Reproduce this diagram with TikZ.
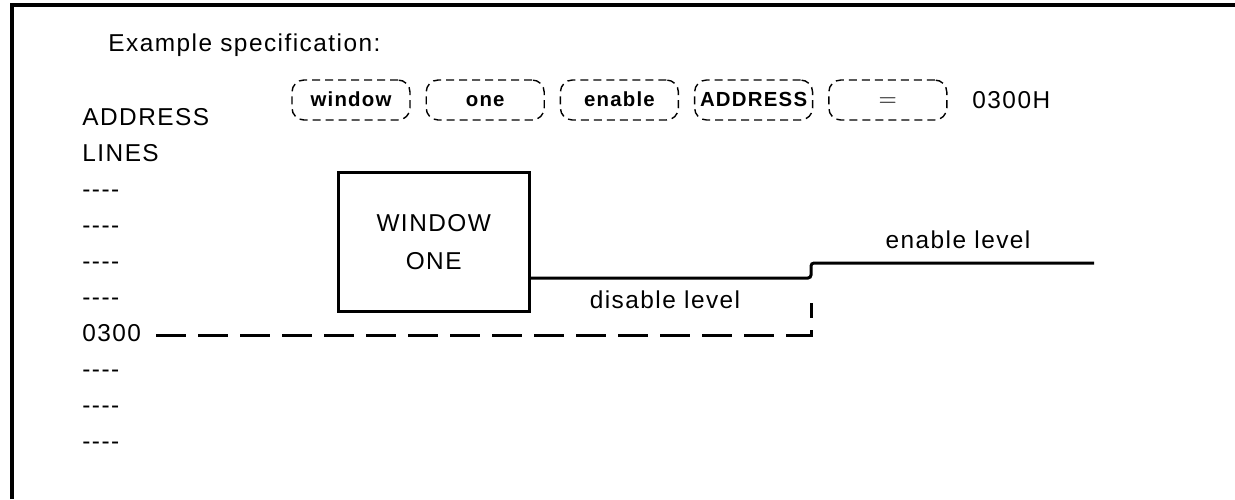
\documentclass[tikz,border=0pt]{standalone}
\usepackage{fontspec}
\setmainfont{Liberation Sans}[LetterSpace=6,Ligatures=TeXOff]
\usepackage{tikz}
\usetikzlibrary{positioning}

\newcommand{\dashrow}{----}

\begin{document}
\begin{tikzpicture}[x=0.5pt,y=-0.5pt,
  txt/.style={inner sep=0pt,font=\fontsize{12.2}{14}\selectfont},
  rowlbl/.style={txt,anchor=base west},
  keybox/.style={draw,dash pattern=on 4pt off 2.5pt,line width=0.7pt,rounded corners=6pt,
    minimum width=59pt,minimum height=20pt,inner sep=0pt,text height=7.4pt,text depth=0.7pt,
    font=\bfseries\fontsize{10.2}{12}\selectfont},
  winbox/.style={draw,line width=1.5pt,minimum width=95.5pt,minimum height=69.7pt,align=center,
    font=\fontsize{12.2}{19}\selectfont},
  level/.style={line width=1.5pt,rounded corners=1.5pt},
  addr/.style={line width=1.5pt,dash pattern=on 15pt off 6pt}]
\useasboundingbox (0,0) rectangle (1235,499);
% frame
\draw[line width=1.8pt] (12,499) -- (12,5) -- (1235,5);
\node[rowlbl] (title) at (108,51.7) {Example specification:};
% keyword boxes
\foreach \t [count=\i] in {window,one,enable,ADDRESS,{\mdseries\fontsize{12}{12}\selectfont$=$}}
  \node[keybox] (k\i) at (351+134.2*\i-134.2,100) {\t};
\node[txt,anchor=west] (hex) at (972,100) {0300H};
% address lines
\foreach \t [count=\i from 0] in {ADDRESS,LINES,\dashrow,\dashrow,\dashrow,\dashrow,0300,\dashrow,\dashrow,\dashrow}
  \node[rowlbl] (r\i) at (82,125+36.1*\i) {\t};
% window
\node[winbox] (win) at (433.7,242) {WINDOW\\ONE};
\coordinate (step) at (811,278);
\coordinate (enableend) at (1094,263);
\coordinate (dashtop) at (811,303);
\draw[level] (win.east |- step) -- (step) -- (step |- enableend) -- (enableend);
\draw[addr] ([xshift=7.5pt,yshift=-1pt]r6.east) -| (dashtop);
\node[txt] (dis) at (665,300) {disable level};
\node[txt] (en) at (958,240) {enable level};
\end{tikzpicture}
\end{document}
